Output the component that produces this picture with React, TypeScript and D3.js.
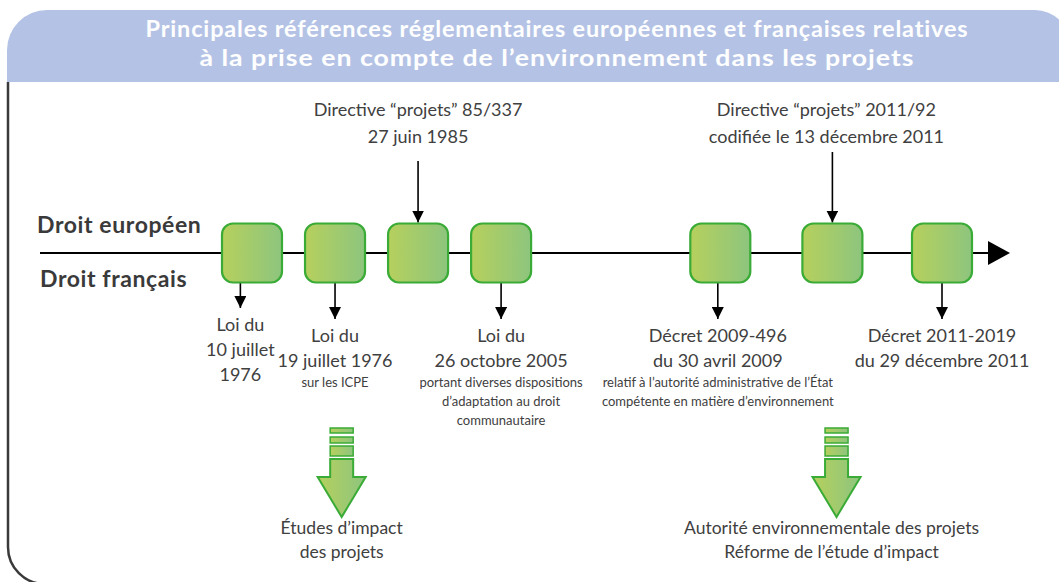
import { FC, useEffect, useRef } from 'react';
import * as d3 from 'd3';

// header title
const titleLines = [
  'Principales références réglementaires européennes et françaises relatives',
  'à la prise en compte de l’environnement dans les projets',
];

// timeline rows
const rowLabels = ['Droit européen', 'Droit français'];

// boxes on the timeline (schematic slot, not to scale)
const boxSlots = [0, 1, 2, 3, 5.64, 6.99, 8.31];

// european references (above the line)
const euroSlots = [2, 6.99];
const euroTexts = [
  ['Directive “projets” 85/337', '27 juin 1985'],
  ['Directive “projets” 2011/92', 'codifiée le 13 décembre 2011'],
];

// french references (below the line)
const frSlots = [-0.14, 1, 3, 5.61, 8.31];
const frTitles = [
  ['Loi du', '10 juillet', '1976'],
  ['Loi du', '19 juillet 1976'],
  ['Loi du', '26 octobre 2005'],
  ['Décret 2009-496', 'du 30 avril 2009'],
  ['Décret 2011-2019', 'du 29 décembre 2011'],
];
const frNotes = [
  [],
  ['sur les ICPE'],
  ['portant diverses dispositions', 'd’adaptation au droit', 'communautaire'],
  ['relatif à l’autorité administrative de l’État', 'compétente en matière d’environnement'],
  [],
];

// outcomes (big green arrows)
const outcomeSlots = [1.08, 7.04];
const outcomeTexts = [
  ['Études d’impact', 'des projets'],
  ['Autorité environnementale des projets', 'Réforme de l’étude d’impact'],
];

const W = 1059;
const H = 582;
const FONT = 'Lato, "Open Sans", sans-serif';
const TEXT = '#404040';
const GREEN = '#3aab36';

const App: FC = () => {
  const svgRef = useRef<SVGSVGElement | null>(null);

  useEffect(() => {
    if (!svgRef.current) return;
    const svg = d3.select(svgRef.current);
    svg.selectAll('*').remove();

    const x = d3.scaleLinear().domain([0, 8.31]).range([252, 942]);
    const lineY = 253;
    const boxW = 60;
    const boxH = 59;

    const defs = svg.append('defs');
    const grad = defs.append('linearGradient').attr('id', 'boxGrad')
      .attr('x1', '0%').attr('x2', '100%').attr('y1', '0%').attr('y2', '0%');
    grad.append('stop').attr('offset', '0%').attr('stop-color', '#b6d05d');
    grad.append('stop').attr('offset', '100%').attr('stop-color', '#8dc57e');

    const marker = defs.append('marker').attr('id', 'head')
      .attr('viewBox', '0 0 10 10').attr('refX', 10).attr('refY', 5)
      .attr('markerWidth', 12).attr('markerHeight', 12)
      .attr('markerUnits', 'userSpaceOnUse').attr('orient', 'auto');
    marker.append('path').attr('d', 'M0,0 L10,5 L0,10 Z').attr('fill', '#000');

    // header band
    svg.append('path')
      .attr('d', `M7,82 V50 A40,40 0 0 1 47,10 H1035 A35,35 0 0 1 1070,45 V82 Z`)
      .attr('fill', '#b4c3e5');

    const headerWidths = [823, 715];
    svg.append('g').selectAll('text').data(titleLines).enter().append('text')
      .attr('x', 557).attr('y', (_, i) => 37 + i * 29)
      .attr('text-anchor', 'middle')
      .attr('font-family', FONT).attr('font-weight', 700).attr('font-size', '22px')
      .attr('letter-spacing', '0.8px')
      .attr('textLength', (_, i) => headerWidths[i]).attr('lengthAdjust', 'spacingAndGlyphs')
      .attr('fill', '#fff')
      .text(d => d);

    // left frame
    svg.append('path')
      .attr('d', `M8,82 V547 A37,37 0 0 0 45,584 H${W}`)
      .attr('fill', 'none').attr('stroke', '#3a3a3a').attr('stroke-width', 2.5);

    // row labels
    svg.append('g').selectAll('text').data(rowLabels).enter().append('text')
      .attr('x', (_, i) => (i === 0 ? 37 : 40)).attr('y', (_, i) => (i === 0 ? 233 : 287))
      .attr('font-family', FONT).attr('font-weight', 700).attr('font-size', '23px')
      .attr('letter-spacing', '0.6px')
      .attr('fill', '#3a3a3a')
      .text(d => d);

    // timeline
    svg.append('line')
      .attr('x1', 40).attr('x2', 990).attr('y1', lineY).attr('y2', lineY)
      .attr('stroke', '#000').attr('stroke-width', 2);
    svg.append('path')
      .attr('d', `M988,${lineY - 12} L1010,${lineY} L988,${lineY + 12} Z`)
      .attr('fill', '#000');

    // european arrows + texts
    const euro = svg.append('g');
    euroSlots.forEach((s, i) => {
      const cx = x(s);
      euro.append('line')
        .attr('x1', cx).attr('x2', cx).attr('y1', i === 0 ? 161 : 152).attr('y2', lineY - boxH / 2 - 1)
        .attr('stroke', '#000').attr('stroke-width', 1.6)
        .attr('marker-end', 'url(#head)');
      euro.append('g').selectAll('text').data(euroTexts[i]).enter().append('text')
        .attr('x', cx - (i === 0 ? 0 : 6)).attr('y', (_, j) => 116 + j * 27)
        .attr('text-anchor', 'middle')
        .attr('font-family', FONT).attr('font-size', '18px').attr('fill', TEXT)
        .text(d => d);
    });

    // french arrows + texts
    const fr = svg.append('g');
    frSlots.forEach((s, i) => {
      const cx = x(s);
      const short = frTitles[i].length > 2;
      const tip = short ? 308 : 319;
      fr.append('line')
        .attr('x1', cx).attr('x2', cx).attr('y1', lineY + boxH / 2).attr('y2', tip)
        .attr('stroke', '#000').attr('stroke-width', 1.6)
        .attr('marker-end', 'url(#head)');
      const base = tip + 23;
      fr.append('g').selectAll('text').data(frTitles[i]).enter().append('text')
        .attr('x', cx).attr('y', (_, j) => base + j * 25)
        .attr('text-anchor', 'middle')
        .attr('font-family', FONT).attr('font-size', '18px').attr('fill', TEXT)
        .text(d => d);
      const noteBase = base + (frTitles[i].length - 1) * 25 + 20;
      fr.append('g').selectAll('text').data(frNotes[i]).enter().append('text')
        .attr('x', cx).attr('y', (_, j) => noteBase + j * 19)
        .attr('text-anchor', 'middle')
        .attr('font-family', FONT).attr('font-size', '13px').attr('fill', TEXT)
        .text(d => d);
    });

    // boxes
    svg.append('g').selectAll('rect').data(boxSlots).enter().append('rect')
      .attr('x', d => x(d) - boxW / 2).attr('y', lineY - boxH / 2)
      .attr('width', boxW).attr('height', boxH)
      .attr('rx', 11).attr('ry', 11)
      .attr('fill', 'url(#boxGrad)')
      .attr('stroke', GREEN).attr('stroke-width', 2.2);

    // outcome arrows
    const out = svg.append('g');
    outcomeSlots.forEach((s, i) => {
      const cx = x(s);
      const g = out.append('g').attr('transform', `translate(${cx},0)`);
      const bars: [number, number][] = [[428, 5], [437, 6], [446, 10]];
      bars.forEach(([y, h]) => {
        g.append('rect').attr('x', -11.5).attr('y', y).attr('width', 23).attr('height', h)
          .attr('fill', 'url(#boxGrad)').attr('stroke', GREEN).attr('stroke-width', 1.5);
      });
      g.append('path')
        .attr('d', 'M-11.5,459 H11.5 V477 H24 L0,517 L-24,477 H-11.5 Z')
        .attr('fill', 'url(#boxGrad)').attr('stroke', GREEN).attr('stroke-width', 2)
        .attr('stroke-linejoin', 'miter');
      out.append('g').selectAll('text').data(outcomeTexts[i]).enter().append('text')
        .attr('x', cx - (i === 0 ? 0 : 5)).attr('y', (_, j) => 534 + j * 24)
        .attr('text-anchor', 'middle')
        .attr('font-family', FONT).attr('font-size', '17.5px').attr('fill', TEXT)
        .text(d => d);
    });
  }, []);

  return (
    <svg
      ref={svgRef}
      width={W}
      height={H}
      style={{ display: 'block', position: 'absolute', left: 0, top: 0, background: '#fff' }}
    />
  );
};

export default App;
